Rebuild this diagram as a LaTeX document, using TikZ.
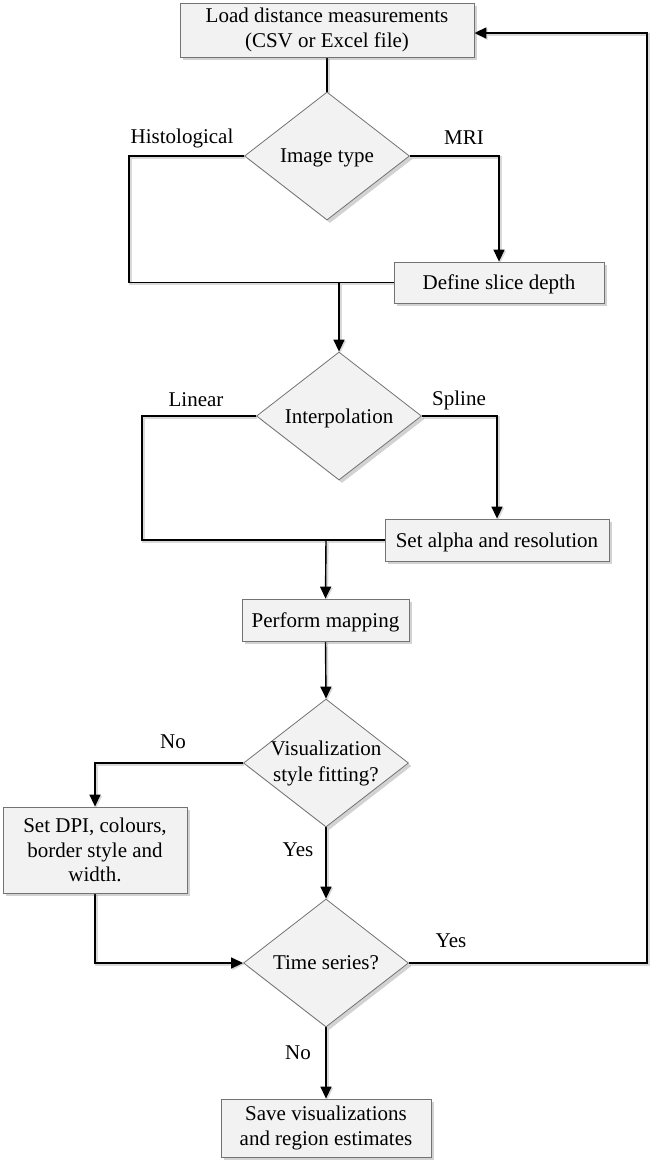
\documentclass[tikz,border=0pt]{standalone}
\usepackage{fontspec}
\setmainfont{Liberation Serif}
\usetikzlibrary{shapes.geometric,shadows,arrows.meta,calc}
\pgfdeclarelayer{paper}
\pgfdeclarelayer{background}
\pgfsetlayers{paper,background,main}
\tikzset{
  shd/.style={drop shadow={shadow xshift=3pt, shadow yshift=-3pt, opacity=0.25, fill=black!70}},
  box/.style={rectangle, draw=black!55, line width=0.8pt, fill=black!5, align=center,
    font=\fontsize{21}{25}\selectfont, inner sep=0pt, shd},
  dec/.style={diamond, draw=black!55, line width=0.8pt, fill=black!5, align=center,
    font=\fontsize{21}{26}\selectfont, inner sep=-20pt, minimum width=165pt, minimum height=128pt, shd},
  oneline/.style={text depth=0pt},
  conn/.style={line width=1.4pt, draw=black,
    preaction={draw=black!15, line width=2.6pt, transform canvas={shift={(1.3pt,-1.3pt)}}}},
  arr/.style={conn, -{Triangle[length=12pt,width=11pt]}},
  lab/.style={font=\fontsize{21}{25}\selectfont, inner sep=0pt}
}
\begin{document}
\begin{tikzpicture}[x=1pt,y=-1pt]
\begin{pgfonlayer}{paper}
\path[fill=white, use as bounding box] (0,0) rectangle (657,1171);
\end{pgfonlayer}

\node[box, minimum width=294pt, minimum height=54pt] (load) at (327,30) {Load distance measurements\\(CSV or Excel file)};
\node[dec, oneline] (img) at (327,156) {Image type};
\node[box, oneline, minimum width=210pt, minimum height=41pt] (slice) at (499,282.5) {Define slice depth};
\node[dec, oneline] (interp) at (339,416) {Interpolation};
\node[box, oneline, minimum width=224pt, minimum height=42pt] (alpha) at (497,540) {Set alpha and resolution};
\node[box, oneline, minimum width=167pt, minimum height=42pt] (map) at (325.5,620) {Perform mapping};
\node[dec] (vis) at (326,763) {Visualization\\style fitting?};
\node[box, minimum width=184pt, minimum height=86pt, font=\fontsize{21}{24.5}\selectfont] (dpi) at (95,850) {Set DPI, colours,\\border style and\\width.};
\node[dec, oneline] (time) at (326,963) {Time series?};
\node[box, minimum width=210pt, minimum height=58pt] (save) at (326,1128) {Save visualizations\\and region estimates};

\node[lab] (lhist) at (182,138) {Histological};
\node[lab] (lmri) at (464,138) {MRI};
\node[lab] (llin) at (196,400) {Linear};
\node[lab] (lspl) at (459,400) {Spline};
\node[lab] (lno1) at (173,742) {No};
\node[lab] (lyes1) at (298,850) {Yes};
\node[lab] (lyes2) at (451,941) {Yes};
\node[lab] (lno2) at (298,1053) {No};

\coordinate (hl) at (129,156);
\coordinate (j1) at (339,282);
\coordinate (il) at (142,416);
\coordinate (j2) at (326,540);
\coordinate (vl) at (95,763);
\coordinate (rt) at (647,33);

\begin{pgfonlayer}{background}
\draw[conn] (load.south) -- (img.north);
\draw[conn] (img.west) -- (hl) |- (slice.west);
\draw[arr] (img.east) -| (slice.north);
\draw[arr] (j1) -- (interp.north);
\draw[conn] (interp.west) -- (il) |- (alpha.west);
\draw[arr] (interp.east) -| (alpha.north);
\draw[arr] (j2) -- (map.north);
\draw[arr] (map.south) -- (vis.north);
\draw[arr] (vis.west) -| (dpi.north);
\draw[arr] (vis.south) -- (time.north);
\draw[arr] (dpi.south) |- (time.west);
\draw[arr] (time.east) -| (rt) -- (rt -| load.east);
\draw[arr] (time.south) -- (save.north);
\end{pgfonlayer}
\end{tikzpicture}
\end{document}
